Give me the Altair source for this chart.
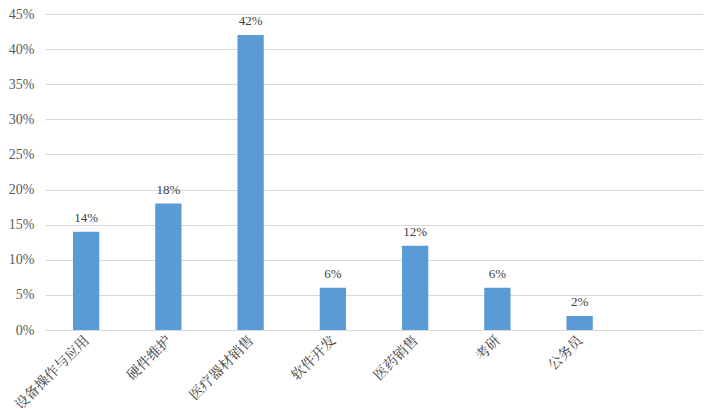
import altair as alt
import pandas as pd

categories = ["设备操作与应用", "硬件维护", "医疗器材销售", "软件开发", "医药销售", "考研", "公务员"]
values = [0.14, 0.18, 0.42, 0.06, 0.12, 0.06, 0.02]
tick_values = [0.0, 0.05, 0.10, 0.15, 0.20, 0.25, 0.30, 0.35, 0.40, 0.45]
domain = categories + [" "]

df = pd.DataFrame({"cat": categories, "val": values})

FONT = "Liberation Serif, Noto Serif CJK SC, Noto Sans CJK SC, serif"

x = alt.X("cat:N", scale=alt.Scale(domain=domain, paddingInner=0.68, paddingOuter=0.34),
          sort=domain,
          axis=alt.Axis(title=None, labelAngle=-45, labelAlign="right", labelBaseline="middle",
                        labelPadding=8, labelOffset=1, ticks=False, domain=False, labelFontSize=14,
                        labelColor="#404040", labelFont=FONT, labelLimit=200, labelBound=False))
y = alt.Y("val:Q", scale=alt.Scale(domain=[0, 0.45], nice=False),
          axis=alt.Axis(title=None, format=".0%", values=tick_values, labelOverlap=False,
                        ticks=False, domain=False, gridColor="#d9d9d9", gridWidth=1,
                        labelFontSize=14, labelColor="#595959", labelFont=FONT, labelPadding=11))

base = alt.Chart(df).encode(x=x, y=y)
bars = base.mark_bar(color="#5B9BD5")
text = base.mark_text(dy=-14, fontSize=13, color="#404040", font=FONT).encode(
    text=alt.Text("val:Q", format=".0%"))

chart = (bars + text).properties(
    width=658, height=316,
    autosize=alt.AutoSizeParams(type="none"),
    padding={"left": 37, "top": 6, "right": 0, "bottom": 78},
).configure_view(stroke=None)

chart.save("out.html", embed_options={"renderer": "svg", "actions": False})
